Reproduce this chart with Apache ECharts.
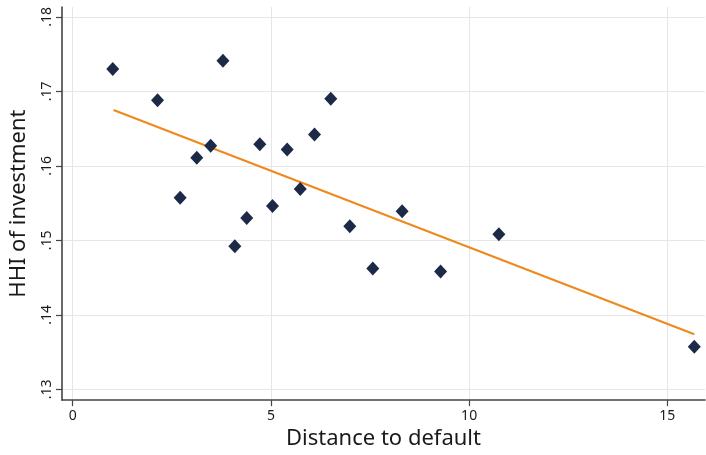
<!DOCTYPE html>
<html>
<head>
<meta charset="utf-8">
<script src="https://cdn.jsdelivr.net/npm/echarts@6/dist/echarts.min.js"></script>
<style>
html,body{margin:0;padding:0;background:#fff;}
#chart{width:706px;height:455px;}
</style>
</head>
<body>
<div id="chart"></div>
<script>
// Data
const distance = [1.01, 2.14, 2.71, 3.13, 3.48, 3.79, 4.09, 4.39, 4.72, 5.04, 5.41, 5.74, 6.10, 6.51, 6.99, 7.57, 8.31, 9.28, 10.75, 15.68];
const hhi      = [.1730, .1688, .1557, .1611, .1627, .1741, .1492, .1530, .1629, .1546, .1622, .1569, .1642, .1690, .1519, .1462, .1539, .1458, .1508, .1357];
const fitX = [1.03, 15.68];
const fitY = [.1675, .1374];
const xTicks = [0, 5, 10, 15];
const yTicks = [.13, .14, .15, .16, .17, .18];
const yTickLabels = ['.13', '.14', '.15', '.16', '.17', '.18'];
const xTitle = 'Distance to default';
const yTitle = 'HHI of investment';

const points = distance.map((d, i) => [d, hhi[i]]);
const fitLine = fitX.map((d, i) => [d, fitY[i]]);
const FONT = '"Noto Sans", "Open Sans", sans-serif';

const chart = echarts.init(document.getElementById('chart'), null, {renderer: 'canvas'});
chart.setOption({
  animation: false,
  backgroundColor: '#ffffff',
  grid: {left: 61, right: 1, top: 7, bottom: 48, containLabel: false},
  xAxis: {
    type: 'value',
    min: -0.27, max: 15.95,
    name: xTitle,
    nameLocation: 'middle',
    nameGap: 25,
    nameTextStyle: {fontFamily: FONT, fontSize: 22, color: '#1a1a1a'},
    axisLine: {show: true, onZero: false, lineStyle: {color: '#444', width: 1.6}},
    axisTick: {show: true, length: 6, customValues: xTicks, lineStyle: {color: '#444', width: 1.2}},
    axisLabel: {customValues: xTicks, fontFamily: FONT, fontSize: 14, color: '#1a1a1a', margin: 9,
      formatter: v => String(v)},
    splitLine: {show: true, lineStyle: {color: '#e6e6e6', width: 1}}
  },
  yAxis: {
    type: 'value',
    min: 0.12855, max: 0.18132,
    name: yTitle,
    nameLocation: 'middle',
    nameGap: 32,
    nameRotate: 90,
    nameTextStyle: {fontFamily: FONT, fontSize: 22, color: '#1a1a1a'},
    axisLine: {show: true, onZero: false, lineStyle: {color: '#444', width: 1.6}},
    axisTick: {show: true, length: 6, customValues: yTicks, lineStyle: {color: '#444', width: 1.2}},
    axisLabel: {customValues: yTicks, rotate: 90, fontFamily: FONT, fontSize: 14, color: '#1a1a1a', margin: 8,
      formatter: v => { const i = yTicks.findIndex(t => Math.abs(t - v) < 1e-6); return i >= 0 ? yTickLabels[i] : ''; }},
    splitLine: {show: true, lineStyle: {color: '#e6e6e6', width: 1}}
  },
  series: [
    {
      type: 'scatter',
      data: points,
      symbol: 'diamond',
      symbolSize: [13, 14],
      itemStyle: {color: '#1c2a48', opacity: 1},
      z: 3
    },
    {
      type: 'line',
      data: fitLine,
      symbol: 'none',
      lineStyle: {color: '#ee8a1d', width: 2.2},
      z: 2
    }
  ]
});
</script>
</body>
</html>
